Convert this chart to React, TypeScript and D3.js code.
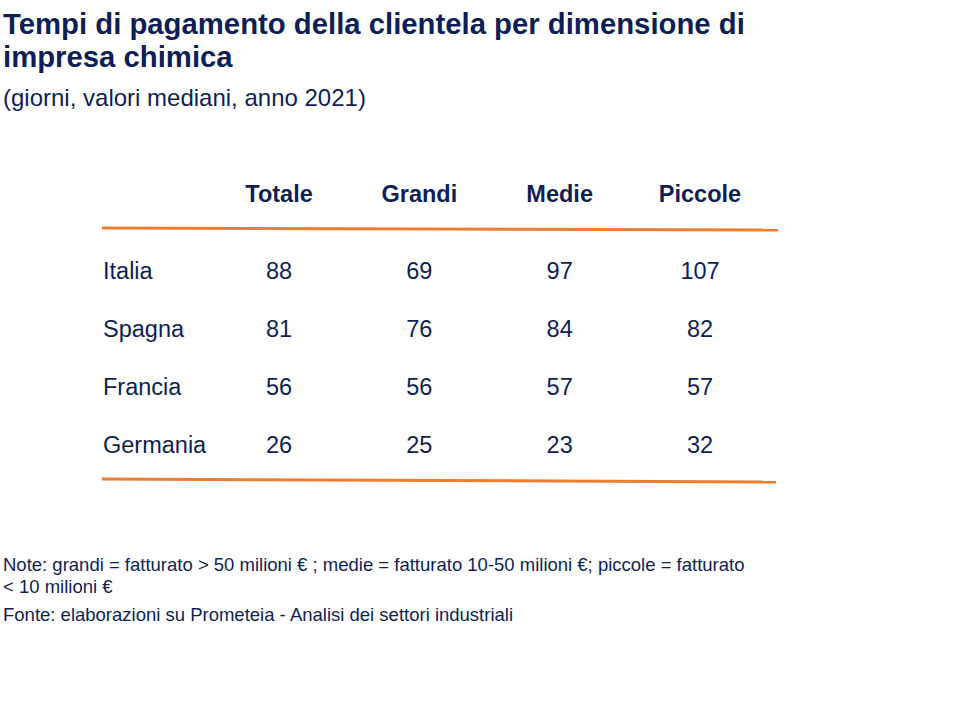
import React from "react";
import * as d3 from "d3";

const title = ["Tempi di pagamento della clientela per dimensione di", "impresa chimica"];
const subtitle = "(giorni, valori mediani, anno 2021)";
const columns = ["Totale", "Grandi", "Medie", "Piccole"];
const countries = ["Italia", "Spagna", "Francia", "Germania"];
const totale = [88, 81, 56, 26];
const grandi = [69, 76, 56, 25];
const medie = [97, 84, 57, 23];
const piccole = [107, 82, 57, 32];
const notes = [
  "Note: grandi = fatturato > 50 milioni \u20ac ; medie = fatturato 10-50 milioni \u20ac; piccole = fatturato",
  "< 10 milioni \u20ac",
];
const source = "Fonte: elaborazioni su Prometeia - Analisi dei settori industriali";

const series = [totale, grandi, medie, piccole];
const NAVY = "#0d1f55";
const ORANGE = "#ed7d31";
const FONT = "Liberation Sans";

export default function App() {
  const x = d3.scalePoint<string>().domain(columns).range([279, 700]);
  const y = d3.scalePoint<string>().domain(countries).range([270, 444]);

  return (
    <svg width={960} height={720} style={{ position: "absolute", left: 0, top: 0 }} fontFamily={FONT}>
      <rect width={960} height={720} fill="#fff" />
      {title.map((t, i) => (
        <text key={i} x={3} y={34 + i * 33} fontSize={29.3} fontWeight="bold" fill={NAVY}>
          {t}
        </text>
      ))}
      <text x={3} y={106} fontSize={24} fill={NAVY}>
        {subtitle}
      </text>
      {columns.map((c) => (
        <text key={c} x={x(c)} y={202} fontSize={23.5} fontWeight="bold" fill={NAVY} textAnchor="middle">
          {c}
        </text>
      ))}
      <line x1={102} y1={228} x2={778} y2={230} stroke={ORANGE} strokeWidth={3} />
      {countries.map((c, i) => (
        <g key={c}>
          <text x={103} y={(y(c) as number) + 9} fontSize={23.5} fill={NAVY}>
            {c}
          </text>
          {columns.map((col, j) => (
            <text key={col} x={x(col)} y={(y(c) as number) + 9} fontSize={23.5} fill={NAVY} textAnchor="middle">
              {series[j][i]}
            </text>
          ))}
        </g>
      ))}
      <line x1={102} y1={479} x2={776} y2={482} stroke={ORANGE} strokeWidth={3} />
      {notes.map((n, i) => (
        <text key={i} x={3} y={571 + i * 22} fontSize={18.5} fill={NAVY}>
          {n}
        </text>
      ))}
      <text x={3} y={621} fontSize={18.5} fill={NAVY}>
        {source}
      </text>
    </svg>
  );
}
